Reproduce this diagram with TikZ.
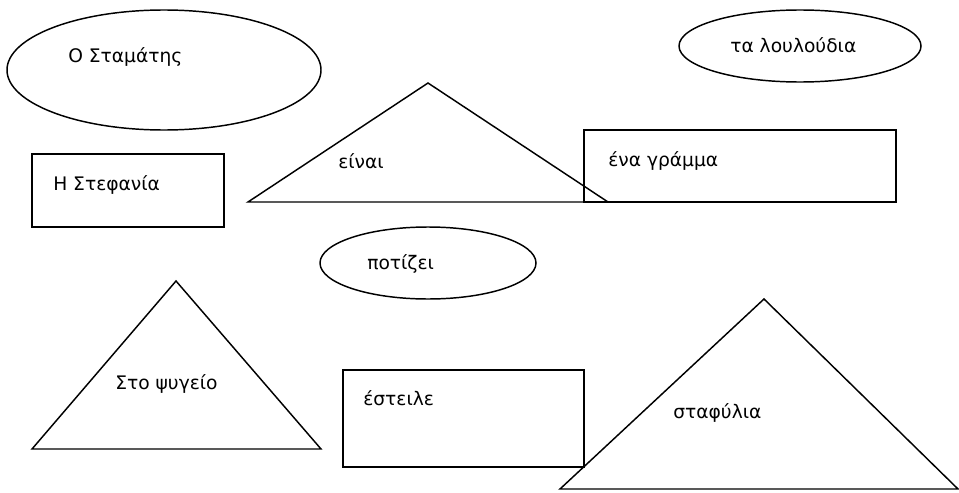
\documentclass[tikz,border=0pt]{standalone}
\usepackage{fontspec}
\setmainfont{DejaVu Sans}
\begin{document}
\begin{tikzpicture}[x=0.75pt,y=-0.75pt,
  shape line/.style={draw=black,line width=1.1pt,line join=miter},
  label text/.style={anchor=base west,inner sep=0pt,font=\fontsize{14}{16}\selectfont}]
\useasboundingbox (0,0) rectangle (959,492);
% ellipses
\draw[shape line] (164,70) ellipse [x radius=157,y radius=60];
\draw[shape line] (800,46) ellipse [x radius=121,y radius=36];
\draw[shape line] (428,263) ellipse [x radius=108,y radius=36];
% rectangles
\draw[shape line] (32,154) rectangle (224,227);
\draw[shape line] (584,130) rectangle (896,202);
\draw[shape line] (343,370) rectangle (584,467);
% triangles
\draw[shape line] (248,202) -- (428,83) -- (608,202) -- cycle;
\draw[shape line] (32,449) -- (176,281) -- (321,449) -- cycle;
\draw[shape line] (560,489) -- (764,299) -- (958,489) -- cycle;
% texts
\node[label text] (stam) at (68,63) {Ο Σταμάτης};
\node[label text] (stef) at (53,190) {Η Στεφανία};
\node[label text] (einai) at (338,168) {είναι};
\node[label text] (gramma) at (608,166) {ένα γράμμα};
\node[label text] (louloud) at (730,53) {τα λουλούδια};
\node[label text] (potizei) at (367,269) {ποτίζει};
\node[label text] (psygeio) at (115,389) {Στο ψυγείο};
\node[label text] (esteile) at (363,405) {έστειλε};
\node[label text] (stafylia) at (673,418) {σταφύλια};
\end{tikzpicture}
\end{document}
